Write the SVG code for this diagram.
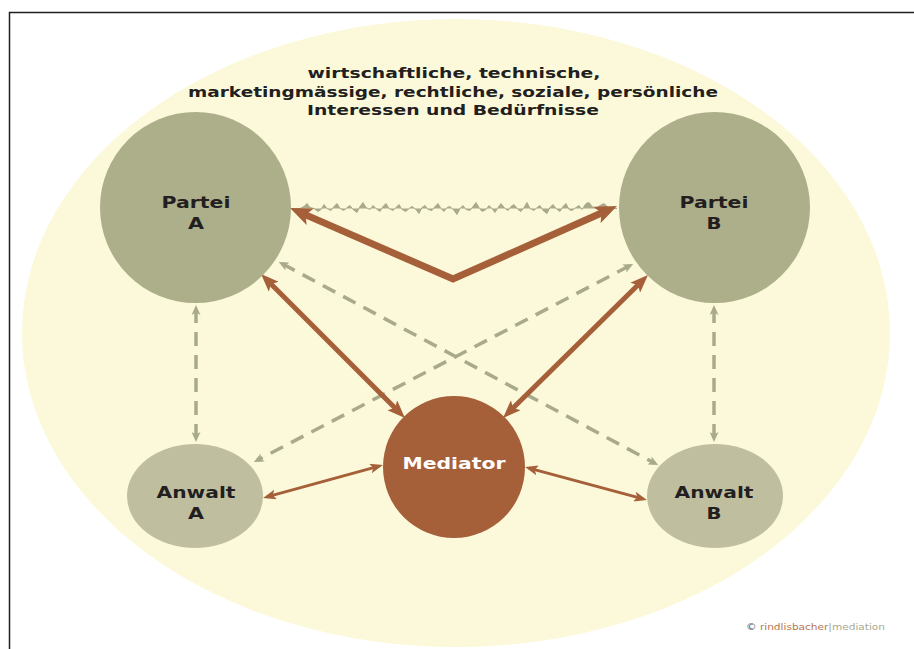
<svg xmlns="http://www.w3.org/2000/svg" width="914" height="649" viewBox="0 0 914 649">
<style>
.lbl{font-family:"DejaVu Sans",Verdana,sans-serif;font-weight:bold;fill:#231f20;text-anchor:middle}
.title{font-size:14px}
.node{font-size:15px}
.brown{stroke:#a5603a;fill:none}
.gray{stroke:#a8aa8b;fill:none;stroke-width:3.5;stroke-dasharray:14 9}
</style>
<defs>
<marker id="hBig" viewBox="0 0 22 18" refX="13" refY="9" markerWidth="22" markerHeight="18" markerUnits="userSpaceOnUse" orient="auto-start-reverse">
<path d="M0,0 L22,9 L0,18 L5,9 z" fill="#a5603a"/>
</marker>
<marker id="hMid" viewBox="0 0 18 14" refX="11" refY="7" markerWidth="18" markerHeight="14" markerUnits="userSpaceOnUse" orient="auto-start-reverse">
<path d="M0,0 L18,7 L0,14 L4,7 z" fill="#a5603a"/>
</marker>
<marker id="hSmall" viewBox="0 0 13 10" refX="9" refY="5" markerWidth="13" markerHeight="10" markerUnits="userSpaceOnUse" orient="auto-start-reverse">
<path d="M0,0 L13,5 L0,10 L3,5 z" fill="#a5603a"/>
</marker>
<marker id="hGray" viewBox="0 0 10 9" refX="6" refY="4.5" markerWidth="10" markerHeight="9" markerUnits="userSpaceOnUse" orient="auto-start-reverse">
<path d="M0,0 L10,4.5 L0,9 L2.5,4.5 z" fill="#a8aa8b"/>
</marker>
</defs>
<rect x="0" y="0" width="914" height="649" fill="#ffffff"/>
<path d="M9.5,660 V12.5 H920" fill="none" stroke="#231f20" stroke-width="1.5"/>
<ellipse id="background" cx="456" cy="333" rx="434" ry="314" fill="#fcf9da"/>

<g id="connectors">
<path d="M292,208.5 L300,208.5 L304,206.5 L307,203.5 L310,207.5 L314,208.5 L318,211.5 L321,209.5 L324,204.5 L327,208.5 L331,210.5 L334,206.5 L337,203.5 L340,208.5 L344,210.5 L347,207.5 L350,205.5 L353,209.5 L357,212.5 L360,206.5 L363,202.5 L366,207.5 L370,209.5 L373,205.5 L376,208.5 L380,211.5 L383,206.5 L386,203.5 L389,208.5 L393,210.5 L396,207.5 L399,204.5 L402,209.5 L406,211.5 L409,208.5 L412,206.5 L416,209.5 L419,213.5 L422,207.5 L425,205.5 L428,209.5 L432,210.5 L435,206.5 L438,203.5 L441,208.5 L444,211.5 L447,207.5 L450,206.5 L454,210.5 L457,214.5 L460,208.5 L463,205.5 L466,209.5 L470,210.5 L473,206.5 L476,202.5 L479,207.5 L482,211.5 L486,209.5 L489,205.5 L492,208.5 L495,212.5 L498,207.5 L501,203.5 L505,208.5 L508,210.5 L511,206.5 L514,204.5 L518,209.5 L521,211.5 L524,207.5 L527,202.5 L530,208.5 L534,210.5 L537,207.5 L540,205.5 L543,210.5 L547,213.5 L550,207.5 L553,204.5 L556,208.5 L560,211.5 L563,206.5 L566,203.5 L569,209.5 L572,210.5 L576,207.5 L579,205.5 L582,209.5 L586,203.5 L589,202.5 L592,206.5 L596,208.5 L600,205.5 L604,203.5 L608,207.5 L612,208.5 L617,208.5" fill="#a8aa8b" stroke="#a8aa8b" stroke-width="1" stroke-linejoin="round"/>

<path class="gray" d="M196,309 V438" marker-start="url(#hGray)" marker-end="url(#hGray)"/>
<path class="gray" d="M714,309 V438" marker-start="url(#hGray)" marker-end="url(#hGray)"/>
<path class="gray" d="M282.3,263.8 L654.7,463.2" marker-start="url(#hGray)" marker-end="url(#hGray)"/>
<path class="gray" d="M629.6,265.8 L257.4,460.2" marker-start="url(#hGray)" marker-end="url(#hGray)"/>

<path class="brown" stroke-width="7" stroke-linejoin="miter" d="M298.3,211.6 L453,279 L608.8,209.7" marker-start="url(#hBig)" marker-end="url(#hBig)"/>
<path class="brown" stroke-width="5" d="M266,279 L400,413" marker-start="url(#hMid)" marker-end="url(#hMid)"/>
<path class="brown" stroke-width="5" d="M643,280 L508,413" marker-start="url(#hMid)" marker-end="url(#hMid)"/>
<path class="brown" stroke-width="3" d="M266.9,496.9 L379.1,466.1" marker-start="url(#hSmall)" marker-end="url(#hSmall)"/>
<path class="brown" stroke-width="3" d="M528.9,468.1 L643.1,498.9" marker-start="url(#hSmall)" marker-end="url(#hSmall)"/>
</g>

<g id="partei-a">
<circle cx="195.5" cy="207.5" r="95.5" fill="#adae8a"/>
<text class="lbl node" x="196" y="208" textLength="69" lengthAdjust="spacingAndGlyphs">Partei</text>
<text class="lbl node" x="196" y="229" textLength="16" lengthAdjust="spacingAndGlyphs">A</text>
</g>
<g id="partei-b">
<circle cx="714.5" cy="207.5" r="95.5" fill="#adae8a"/>
<text class="lbl node" x="714" y="208" textLength="69" lengthAdjust="spacingAndGlyphs">Partei</text>
<text class="lbl node" x="714" y="229" textLength="15" lengthAdjust="spacingAndGlyphs">B</text>
</g>
<g id="mediator">
<circle cx="454" cy="467" r="71" fill="#a5603a"/>
<text class="lbl node" x="454" y="469" style="fill:#ffffff" textLength="103" lengthAdjust="spacingAndGlyphs">Mediator</text>
</g>
<g id="anwalt-a">
<ellipse cx="195" cy="496" rx="68" ry="52" fill="#bfbfa0"/>
<text class="lbl node" x="196" y="498" textLength="79" lengthAdjust="spacingAndGlyphs">Anwalt</text>
<text class="lbl node" x="196" y="519" textLength="16" lengthAdjust="spacingAndGlyphs">A</text>
</g>
<g id="anwalt-b">
<ellipse cx="715" cy="496" rx="68" ry="52" fill="#bfbfa0"/>
<text class="lbl node" x="714" y="498" textLength="79" lengthAdjust="spacingAndGlyphs">Anwalt</text>
<text class="lbl node" x="714" y="519" textLength="15" lengthAdjust="spacingAndGlyphs">B</text>
</g>

<g id="title">
<text class="lbl title" x="454" y="78" textLength="293" lengthAdjust="spacingAndGlyphs">wirtschaftliche, technische,</text>
<text class="lbl title" x="453" y="97" textLength="530" lengthAdjust="spacingAndGlyphs">marketingmässige, rechtliche, soziale, persönliche</text>
<text class="lbl title" x="453" y="115" textLength="292" lengthAdjust="spacingAndGlyphs">Interessen und Bedürfnisse</text>
</g>

<text x="746" y="630" font-family="'DejaVu Sans',sans-serif" font-size="8" textLength="139" lengthAdjust="spacingAndGlyphs"><tspan fill="#555555">©</tspan><tspan fill="#b5744f"> rindlisbacher</tspan><tspan fill="#a8aa8b">|mediation</tspan></text>
</svg>
